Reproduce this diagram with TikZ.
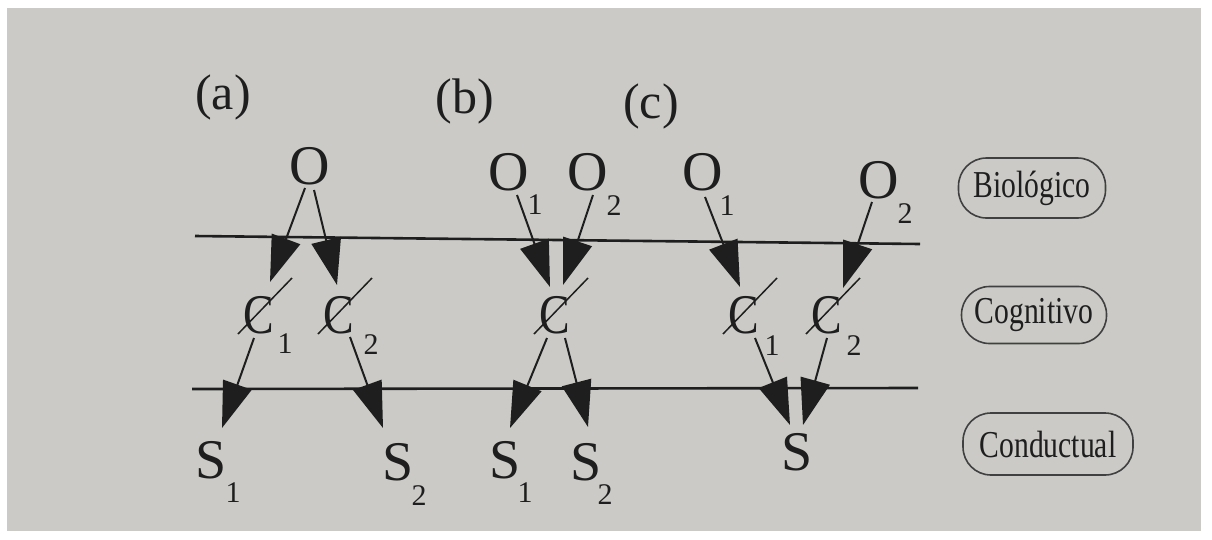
\documentclass[tikz,border=0pt]{standalone}
\usepackage{graphicx}
\usepackage{fontspec}
\setmainfont{Liberation Serif}
\usetikzlibrary{arrows.meta}
\definecolor{paper}{HTML}{CBCAC6}
\definecolor{ink}{HTML}{1E1E1E}
\tikzset{
 big/.style={inner sep=0pt, text=ink, font=\fontsize{56}{62}\selectfont},
 subs/.style={inner sep=0pt, text=ink, font=\fontsize{30}{34}\selectfont},
 tag/.style={inner sep=0pt, text=ink, font=\fontsize{50}{56}\selectfont},
 level/.style={draw=ink!85, line width=1.6pt, rounded corners=28pt, text=ink,
   font=\fontsize{38}{42}\selectfont, inner sep=0pt},
 arr/.style={draw=ink, line width=2pt, -{Triangle[length=46pt,width=30pt]}},
 rule/.style={draw=ink, line width=2.6pt},
 slash/.style={draw=ink, line width=1.5pt},
}
\newcommand{\cee}{\scalebox{0.82}[1]{C}}
\newcommand{\lbltext}[1]{\scalebox{0.78}[1]{#1}}
\begin{document}
\begin{tikzpicture}[x=1pt,y=-1pt]
\useasboundingbox (0,0) rectangle (1212,539);
\fill[white] (0,0) rectangle (1212,539);
\fill[paper] (7,8) rectangle (1201,531);

% panel tags
\node[tag] (taga) at (223,97) {(a)};
\node[tag] (tagb) at (465,101) {(b)};
\node[tag] (tagc) at (651,106) {(c)};

% level rules
\coordinate (t1) at (195,236);
\coordinate (t2) at (920,244);
\coordinate (b1) at (192,389);
\coordinate (b2) at (918,388);
\draw[rule] (t1) -- (t2);
\draw[rule] (b1) -- (b2);

% ---- (a)
\node[big] (oa) at (310,166) {O};
\node[big] (ca1) at (259,315) {\cee};
\node[big] (ca2) at (339,315) {\cee};
\node[big] (sa1) at (211,460) {S};
\node[big] (sa2) at (398,462) {S};
\node[subs] (ca1s) at (285,344) {1};
\node[subs] (ca2s) at (371,345) {2};
\node[subs] (sa1s) at (233,493) {1};
\node[subs] (sa2s) at (419,496) {2};

% ---- (b)
\node[big] (ob1) at (509,172) {O};
\node[big] (ob2) at (588,172) {O};
\node[big] (cb) at (555,315) {\cee};
\node[big] (sb1) at (505,460) {S};
\node[big] (sb2) at (586,462) {S};
\node[subs] (ob1s) at (535,205) {1};
\node[subs] (ob2s) at (614,206) {2};
\node[subs] (sb1s) at (525,493) {1};
\node[subs] (sb2s) at (605,495) {2};

% ---- (c)
\node[big] (oc1) at (703,172) {O};
\node[big] (oc2) at (879,180) {O};
\node[big] (cc1) at (744,315) {\cee};
\node[big] (cc2) at (827,315) {\cee};
\node[big] (sc) at (797,452) {S};
\node[subs] (oc1s) at (727,206) {1};
\node[subs] (oc2s) at (905,214) {2};
\node[subs] (cc1s) at (772,346) {1};
\node[subs] (cc2s) at (854,346) {2};

% slashes through the C's
\foreach \n in {ca1,ca2,cb,cc1,cc2}
  \draw[slash] ([shift={(-21,19)}]\n.center) -- ([shift={(33,-37)}]\n.center);

% arrows (a)
\draw[arr] ([shift={(-5,22)}]oa.center) -- ([shift={(11,-33)}]ca1.center);
\draw[arr] ([shift={(4,24)}]oa.center) -- ([shift={(-2,-30)}]ca2.center);
\draw[arr] ([shift={(-5,23)}]ca1.center) -- ([shift={(11,-32)}]sa1.center);
\draw[arr] ([shift={(11,22)}]ca2.center) -- ([shift={(-15,-34)}]sa2.center);

% arrows (b)
\draw[arr] ([shift={(8,23)}]ob1.center) -- ([shift={(-5,-28)}]cb.center);
\draw[arr] ([shift={(5,23)}]ob2.center) -- ([shift={(8,-30)}]cb.center);
\draw[arr] ([shift={(-8,23)}]cb.center) -- ([shift={(5,-32)}]sb1.center);
\draw[arr] ([shift={(10,23)}]cb.center) -- ([shift={(2,-35)}]sb2.center);

% arrows (c)
\draw[arr] ([shift={(2,25)}]oc1.center) -- ([shift={(-4,-28)}]cc1.center);
\draw[arr] ([shift={(-7,22)}]oc2.center) -- ([shift={(16,-27)}]cc2.center);
\draw[arr] ([shift={(11,23)}]cc1.center) -- ([shift={(-7,-27)}]sc.center);
\draw[arr] ([shift={(0,23)}]cc2.center) -- ([shift={(6,-27)}]sc.center);

% level labels
\node[level, minimum width=147pt, minimum height=60pt] (bio) at (1032,188) {\lbltext{Biológico}};
\node[level, minimum width=145pt, minimum height=57pt] (cog) at (1034,315) {\lbltext{Cognitivo}};
\node[level, minimum width=170pt, minimum height=62pt] (con) at (1048,444) {\lbltext{Conductual}};
\end{tikzpicture}
\end{document}
